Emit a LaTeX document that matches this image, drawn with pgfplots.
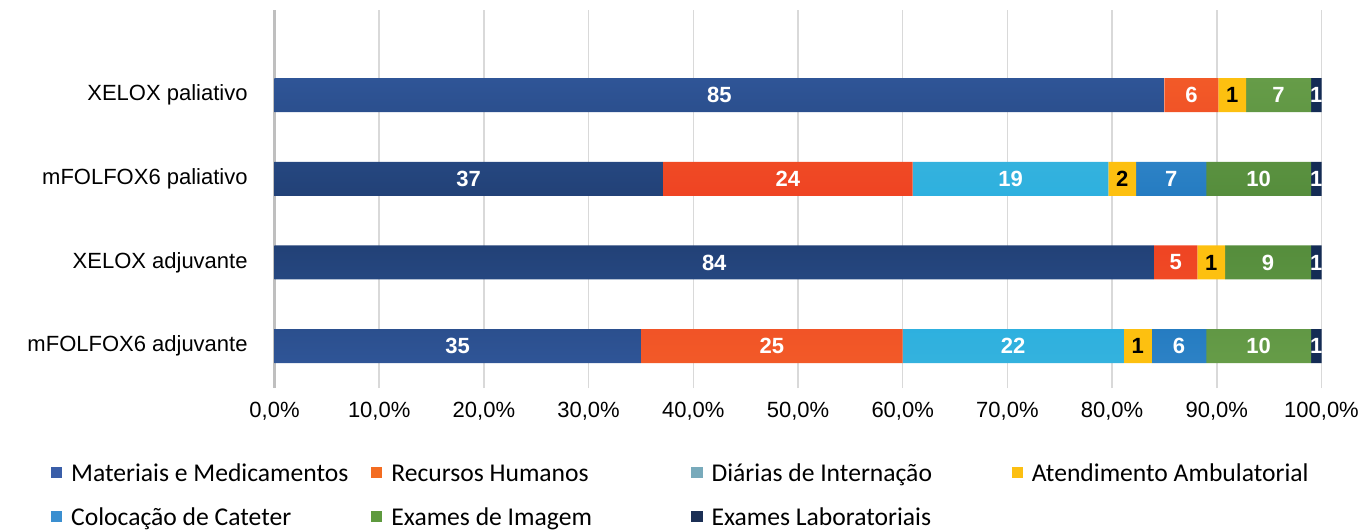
\documentclass[border=0pt]{standalone}
\usepackage{fontspec}
\setmainfont{Liberation Sans}
\newfontfamily\legfont{Carlito}
\usepackage{pgfplots}
\usepackage{pgfplotstable}
\pgfplotsset{compat=1.18}

\definecolor{cMM}{HTML}{1F3D70}
\definecolor{cMMe}{HTML}{2F5597}
\definecolor{cRH}{HTML}{EE3F22}
\definecolor{cRHe}{HTML}{F25A28}
\definecolor{cDI}{HTML}{22ADE0}
\definecolor{cDIe}{HTML}{34B2DE}
\definecolor{cAA}{HTML}{FDC010}
\definecolor{cCC}{HTML}{1670B8}
\definecolor{cCCe}{HTML}{2D82C6}
\definecolor{cEI}{HTML}{528A3A}
\definecolor{cEIe}{HTML}{669C48}
\definecolor{cEL}{HTML}{142C55}
% legend colours
\definecolor{lMM}{HTML}{3A5EA8}
\definecolor{lRH}{HTML}{F36C21}
\definecolor{lDI}{HTML}{78AABB}
\definecolor{lAA}{HTML}{FCBF12}
\definecolor{lCC}{HTML}{3B8FD0}
\definecolor{lEI}{HTML}{5E9A3E}
\definecolor{lEL}{HTML}{1B2F55}

% c: 0 = mFOLFOX6 adjuvante, 1 = XELOX adjuvante, 2 = mFOLFOX6 paliativo, 3 = XELOX paliativo
\pgfplotstableread{
v c lab
35.0 0 35
84.0 1 84
37.1 2 37
85.0 3 85
}\tMM
\pgfplotstableread{
v c lab
25.0 0 25
4.15 1 5
23.85 2 24
5.15 3 6
}\tRH
\pgfplotstableread{
v c lab
21.1 0 22
0 1 {}
18.7 2 19
0 3 {}
}\tDI
\pgfplotstableread{
v c lab
2.7 0 1
2.65 1 1
2.65 2 2
2.65 3 1
}\tAA
\pgfplotstableread{
v c lab
5.2 0 6
0 1 {}
6.7 2 7
0 3 {}
}\tCC
\pgfplotstableread{
v c lab
10.0 0 10
8.2 1 9
10.0 2 10
6.2 3 7
}\tEI
\pgfplotstableread{
v c lab
1.0 0 1
1.0 1 1
1.0 2 1
1.0 3 1
}\tEL

\pgfplotsset{
  segstyle/.style={
    point meta=explicit symbolic,
    nodes near coords={\pgfplotspointmeta},
    every node near coord/.append style={anchor=center, inner sep=0pt,
      font=\fontsize{11}{13}\selectfont\bfseries, text=white},
  },
  legsq/.style={legend image code/.code={%
      \pgfpathrectangle{\pgfpoint{0pt}{-1.6pt}}{\pgfpoint{5.6pt}{5.6pt}}%
      \pgfsetfillcolor{#1}\pgfusepath{fill}}},
  glow/.style 2 args={top color=#2, bottom color=#2, middle color=#1, draw=none},
}

\begin{document}
\begin{tikzpicture}
\useasboundingbox (-137.25pt,-71.5pt) rectangle (543.75pt,194pt);
\begin{axis}[
  at={(0pt,0pt)}, anchor=south west,
  width=523.5pt, height=189pt, scale only axis,
  xbar stacked, bar width=17pt,
  xmin=0, xmax=100, ymin=-0.5, ymax=4.016,
  axis line style={draw=none},
  major tick length=0pt,
  xtick={0,10,...,100},
  xticklabels={{0,0\%},{10,0\%},{20,0\%},{30,0\%},{40,0\%},{50,0\%},{60,0\%},{70,0\%},{80,0\%},{90,0\%},{100,0\%}},
  ytick={0,1,2,3},
  yticklabels={mFOLFOX6 adjuvante, XELOX adjuvante, mFOLFOX6 paliativo, XELOX paliativo},
  tick label style={font=\fontsize{11}{13}\selectfont, text=black},
  yticklabel style={inner sep=0pt, xshift=-13.25pt},
  xticklabel style={inner sep=0pt, yshift=-7pt},
  xmajorgrids, grid style={draw=black!15, line width=0.75pt},
  extra x ticks={0}, extra x tick labels={},
  extra x tick style={grid style={draw=black!25, line width=1.75pt}},
  legend columns=4,
  legend cell align=left,
  legend style={at={(0,0)}, anchor=north west, xshift=-111.75pt, yshift=-37.5pt,
    draw=none, fill=none, inner sep=0pt, outer sep=0pt, row sep=10pt,
    font=\legfont\fontsize{12.8}{15}\selectfont,
    nodes={inner sep=0pt, text height=9pt, text depth=3pt},
    /tikz/every odd column/.append style={column sep=4.5pt}},
]
\addplot[glow={cMM}{cMMe}, segstyle, legsq=lMM] table[x=v, y=c, meta=lab] {\tMM};
\addlegendentry{\makebox[150pt][l]{Materiais e Medicamentos}}
\addplot[glow={cRH}{cRHe}, segstyle, legsq=lRH] table[x=v, y=c, meta=lab] {\tRH};
\addlegendentry{\makebox[150pt][l]{Recursos Humanos}}
\addplot[glow={cDI}{cDIe}, segstyle, legsq=lDI] table[x=v, y=c, meta=lab] {\tDI};
\addlegendentry{\makebox[150pt][l]{Diárias de Internação}}
\addplot[fill=cAA, draw=none, segstyle, legsq=lAA, every node near coord/.append style={text=black}] table[x=v, y=c, meta=lab] {\tAA};
\addlegendentry{\makebox[150pt][l]{Atendimento Ambulatorial}}
\addplot[glow={cCC}{cCCe}, segstyle, legsq=lCC] table[x=v, y=c, meta=lab] {\tCC};
\addlegendentry{\makebox[150pt][l]{Colocação de Cateter}}
\addplot[glow={cEI}{cEIe}, segstyle, legsq=lEI] table[x=v, y=c, meta=lab] {\tEI};
\addlegendentry{\makebox[150pt][l]{Exames de Imagem}}
\addplot[fill=cEL, draw=none, segstyle, legsq=lEL] table[x=v, y=c, meta=lab] {\tEL};
\addlegendentry{\makebox[150pt][l]{Exames Laboratoriais}}
\end{axis}
\end{tikzpicture}
\end{document}
